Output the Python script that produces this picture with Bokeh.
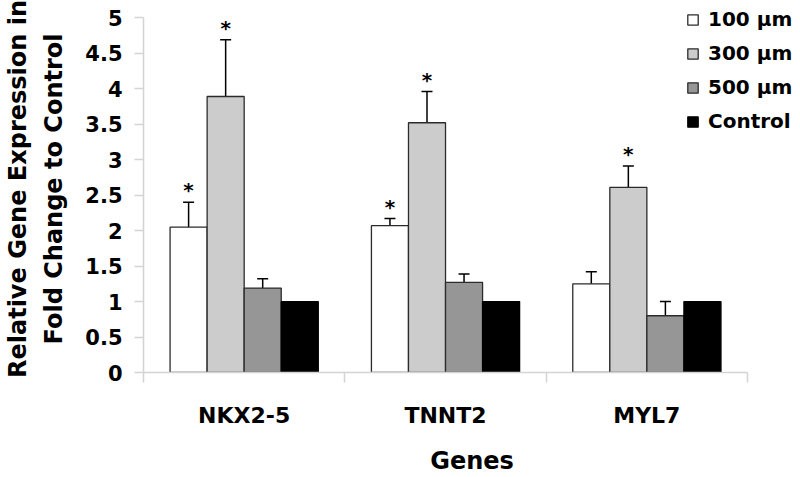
from bokeh.plotting import figure
from bokeh.models import (ColumnDataSource, Range1d, FixedTicker, Whisker, TeeHead,
                          Legend, LegendItem)
from bokeh.core.properties import value
from bokeh.embed import file_html
from bokeh.resources import INLINE

# ---------------- data ----------------
genes = ["NKX2-5", "TNNT2", "MYL7"]
series = ["100 µm", "300 µm", "500 µm", "Control"]

mean_100 = [2.05, 2.07, 1.25]
mean_300 = [3.89, 3.52, 2.61]
mean_500 = [1.19, 1.27, 0.80]
mean_ctrl = [1.00, 1.00, 1.00]

upper_100 = [2.40, 2.17, 1.42]
lower_100 = [1.75, 1.97, 1.11]
upper_300 = [4.69, 3.96, 2.91]
lower_300 = [3.23, 3.10, 2.32]
upper_500 = [1.32, 1.39, 1.00]
lower_500 = [1.06, 1.14, 0.57]

sig_100 = [True, True, False]
sig_300 = [True, True, True]
sig_500 = [False, False, False]

y_ticks = [0, 0.5, 1, 1.5, 2, 2.5, 3, 3.5, 4, 4.5, 5]
y_tick_labels = ["0", "0.5", "1", "1.5", "2", "2.5", "3", "3.5", "4", "4.5", "5"]
y_max = 5

y_title_lines = ["Relative Gene Expression in", "Fold Change to Control"]
x_title = "Genes"

colors = ["#ffffff", "#cccccc", "#969696", "#000000"]
outline = ["#2b2b2b", "#2b2b2b", "#2b2b2b", "#000000"]

FONT = "DejaVu Sans"
AX = "#d4d4d4"

# ---------------- figure ----------------
n_genes = len(genes)
p = figure(width=800, height=477, output_backend="svg", toolbar_location=None,
           x_range=Range1d(0, 3.263), y_range=Range1d(0, 5.173),
           min_border_left=143, min_border_right=0, min_border_top=5,
           min_border_bottom=105)
p.xgrid.visible = False
p.ygrid.visible = False
p.outline_line_color = None
p.background_fill_color = "white"
p.border_fill_color = "white"

bar_w = 0.184
centers = [i + 0.5 for i in range(n_genes)]
means = [mean_100, mean_300, mean_500, mean_ctrl]
uppers = [upper_100, upper_300, upper_500, None]
lowers = [lower_100, lower_300, lower_500, None]
sigs = [sig_100, sig_300, sig_500, [False] * n_genes]

items = []
for k, name in enumerate(series):
    off = (k - 1.5) * bar_w
    xs = [c + off for c in centers]
    src = ColumnDataSource(dict(x=xs, top=means[k]))
    r = p.vbar(x="x", top="top", width=bar_w, bottom=0, source=src,
               fill_color=colors[k], line_color=outline[k], line_width=1.3)
    items.append(LegendItem(label=name, renderers=[r]))
    if uppers[k] is not None:
        esrc = ColumnDataSource(dict(x=xs, up=uppers[k], lo=lowers[k]))
        w = Whisker(base="x", upper="up", lower="lo", source=esrc,
                    line_color="black", line_width=1.5,
                    upper_head=TeeHead(size=11, line_color="black", line_width=1.5),
                    lower_head=TeeHead(size=11, line_color="black", line_width=1.5))
        p.add_layout(w)
        sx = [x for x, s in zip(xs, sigs[k]) if s]
        sy = [u for u, s in zip(uppers[k], sigs[k]) if s]
        if sx:
            p.text(x=sx, y=sy, text=["*"] * len(sx), text_align="center",
                   text_baseline="alphabetic", y_offset=-12,
                   text_font=value(FONT), text_font_style="bold",
                   text_font_size="20px", text_color="black")

# ---------------- axes ----------------
xa = p.xaxis[0]
xa.ticker = FixedTicker(ticks=centers, minor_ticks=list(range(n_genes + 1)))
xa.major_label_overrides = {c: g for c, g in zip(centers, genes)}
xa.bounds = (0, n_genes)
xa.axis_line_color = AX
xa.axis_line_width = 1.5
xa.major_tick_out = 0
xa.major_tick_in = 0
xa.minor_tick_out = 10
xa.minor_tick_in = 0
xa.minor_tick_line_color = AX
xa.minor_tick_line_width = 1.5
xa.major_label_standoff = 20
xa.major_label_text_font = FONT
xa.major_label_text_font_style = "bold"
xa.major_label_text_font_size = "22px"
xa.major_label_text_color = "black"
xa.axis_label = x_title
xa.axis_label_text_font = FONT
xa.axis_label_text_font_style = "bold"
xa.axis_label_text_font_size = "24px"
xa.axis_label_text_color = "black"
xa.axis_label_standoff = 16

ya = p.yaxis[0]
ya.ticker = FixedTicker(ticks=y_ticks, minor_ticks=[])
ya.major_label_overrides = {t: l for t, l in zip(y_ticks, y_tick_labels)}
ya.bounds = (-0.14, y_max)
ya.axis_line_color = AX
ya.axis_line_width = 1.5
ya.major_tick_out = 9
ya.major_tick_in = 0
ya.major_tick_line_color = AX
ya.major_tick_line_width = 1.5
ya.minor_tick_out = 0
ya.minor_tick_in = 0
ya.major_label_standoff = 12
ya.major_label_text_font = FONT
ya.major_label_text_font_style = "bold"
ya.major_label_text_font_size = "21px"
ya.major_label_text_color = "black"
ya.axis_label = "\n".join(y_title_lines)
ya.axis_label_text_font = FONT
ya.axis_label_text_font_style = "bold"
ya.axis_label_text_font_size = "24px"
ya.axis_label_text_color = "black"
ya.axis_label_text_line_height = 1.3
ya.axis_label_standoff = 14

# ---------------- legend ----------------
legend = Legend(items=items, location=(543, 239), orientation="vertical",
                glyph_width=13, glyph_height=13, label_standoff=9,
                spacing=10, padding=0, margin=0,
                label_text_font=FONT, label_text_font_style="bold",
                label_text_font_size="20px", label_text_color="black",
                background_fill_alpha=0, border_line_alpha=0)
p.add_layout(legend, "center")

open("out.html", "w").write(file_html(p, INLINE))
